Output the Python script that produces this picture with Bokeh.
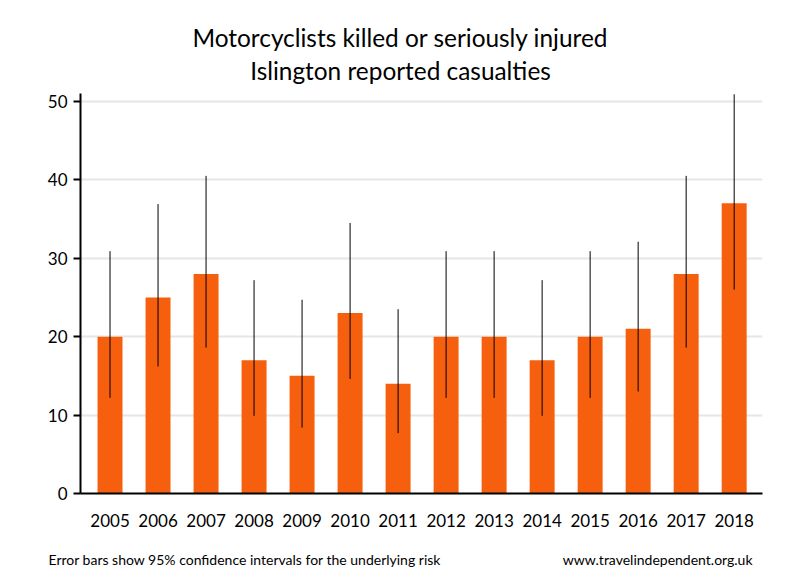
from bokeh.plotting import figure
from bokeh.models import Range1d, FixedTicker
from bokeh.layouts import column, row
from bokeh.core.properties import value
from bokeh.embed import file_html
from bokeh.resources import INLINE

years = ["2005", "2006", "2007", "2008", "2009", "2010", "2011",
         "2012", "2013", "2014", "2015", "2016", "2017", "2018"]
casualties = [20, 25, 28, 17, 15, 23, 14, 20, 20, 17, 20, 21, 28, 37]
ci_low = [12.2, 16.2, 18.6, 9.9, 8.4, 14.6, 7.7, 12.2, 12.2, 9.9, 12.2, 13.0, 18.6, 26.0]
ci_high = [30.9, 36.9, 40.5, 27.2, 24.7, 34.5, 23.5, 30.9, 30.9, 27.2, 30.9, 32.1, 40.5, 50.9]
y_ticks = [0, 10, 20, 30, 40, 50]
title_lines = ["Motorcyclists killed or seriously injured", "Islington reported casualties"]
footer_left = "Error bars show 95% confidence intervals for the underlying risk"
footer_right = "www.travelindependent.org.uk"

FONT = "Lato"
BAR = "#F55F0E"
W = 784
TOP_H = 85
MAIN_H = 455
FOOT_H = 32

idx = list(range(len(years)))


def text_fig(h, y0):
    f = figure(width=W, height=h, output_backend="svg", toolbar_location=None,
               x_range=Range1d(0, W), y_range=Range1d(y0 + h, y0),
               x_axis_location=None, y_axis_location=None,
               min_border=0, min_border_left=0, min_border_right=0,
               min_border_top=0, min_border_bottom=0)
    f.outline_line_color = None
    f.xgrid.visible = False
    f.ygrid.visible = False
    f.background_fill_color = "white"
    f.border_fill_color = "white"
    return f


# title
t = text_fig(TOP_H, 0)
t.text(x=[400, 400], y=[37, 70], text=title_lines, text_font=value(FONT),
       text_font_size="24.4px", text_align="center", text_baseline="alphabetic",
       text_color="black")

# main chart
p = figure(width=W, height=MAIN_H, output_backend="svg", toolbar_location=None,
           x_range=Range1d(-0.615, 13.59), y_range=Range1d(0, 51),
           min_border_left=80, min_border_right=W - 762, min_border_top=93 - TOP_H,
           min_border_bottom=TOP_H + MAIN_H - 493)
p.outline_line_color = None
p.background_fill_color = "white"
p.border_fill_color = "white"

p.vbar(x=idx, top=casualties, width=0.52, fill_color=BAR, line_color=None)
p.segment(x0=idx, y0=ci_low, x1=idx, y1=ci_high, line_color="black", line_width=1)

p.xgrid.grid_line_color = None
p.ygrid.grid_line_color = "#E6E6E6"
p.ygrid.grid_line_width = 2
p.ygrid.ticker = FixedTicker(ticks=y_ticks)

xa = p.xaxis[0]
xa.ticker = FixedTicker(ticks=idx)
xa.major_label_overrides = {i: y for i, y in zip(idx, years)}
xa.major_tick_out = 0
xa.major_tick_in = 0
xa.minor_tick_out = 0
xa.minor_tick_in = 0
xa.axis_line_width = 2
xa.axis_line_color = "black"
xa.major_label_standoff = 20
xa.major_label_text_font = FONT
xa.major_label_text_font_size = "17px"
xa.major_label_text_color = "black"

ya = p.yaxis[0]
ya.ticker = FixedTicker(ticks=y_ticks)
ya.major_tick_out = 7
ya.major_tick_in = 0
ya.minor_tick_out = 0
ya.minor_tick_in = 0
ya.major_tick_line_width = 2
ya.axis_line_width = 2
ya.axis_line_color = "black"
ya.major_label_standoff = 6
ya.major_label_text_font = FONT
ya.major_label_text_font_size = "17px"
ya.major_label_text_color = "black"

# footer
fo = text_fig(FOOT_H, TOP_H + MAIN_H)
fo.text(x=[48], y=[559], text=[footer_left], text_font=value(FONT),
        text_font_size="14px", text_align="left", text_baseline="alphabetic",
        text_color="black")
fo.text(x=[752], y=[559], text=[footer_right], text_font=value(FONT),
        text_font_size="14px", text_align="right", text_baseline="alphabetic",
        text_color="black")

layout = column(row(t), row(p), row(fo), spacing=0)
open("out.html", "w").write(file_html(layout, INLINE))
